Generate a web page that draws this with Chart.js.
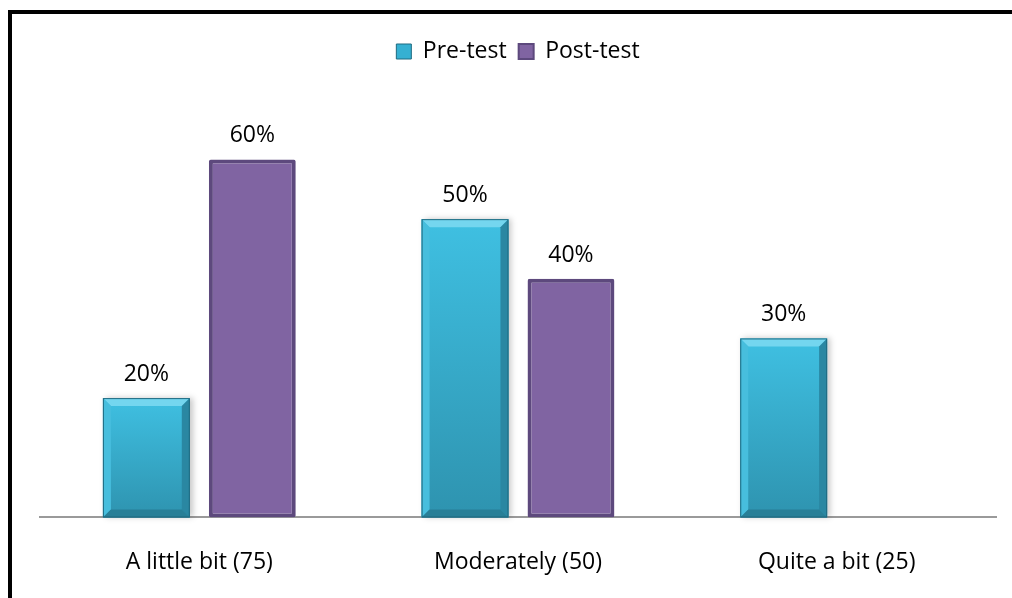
<!DOCTYPE html>
<html>
<head>
<meta charset="utf-8">
<script src="https://cdn.jsdelivr.net/npm/chart.js@4"></script>
<style>
  html, body { margin: 0; padding: 0; background: #fff; }
  body { width: 1012px; height: 598px; position: relative; overflow: hidden; }
  #frame {
    position: absolute; left: 8px; top: 10px; width: 1100px; height: 700px;
    border-left: 4px solid #000; border-top: 4px solid #000;
  }
  #wrap { position: absolute; left: 0; top: 0; width: 1012px; height: 627px; }
</style>
</head>
<body>
<div id="frame"></div>
<div id="wrap"><canvas id="c" width="1012" height="627"></canvas></div>
<script>
const categories = ['A little bit (75)', 'Moderately (50)', 'Quite a bit (25)'];
const preTest = [20, 50, 30];
const postTest = [60, 40, null];
const seriesNames = ['Pre-test', 'Post-test'];

const FONT = '"Open Sans", "Liberation Sans", sans-serif';

// Bevelled look for the cyan bars, plus value labels above every bar
const barDecor = {
  id: 'barDecor',
  afterDatasetsDraw(chart) {
    const ctx = chart.ctx;
    const meta0 = chart.getDatasetMeta(0);
    meta0.data.forEach((bar) => {
      if (bar.skip) return;
      const l = bar.x - bar.width / 2, r = bar.x + bar.width / 2;
      const t = bar.y, b = bar.base;
      const bv = 8;
      ctx.save();
      // body with a soft drop shadow
      const g = ctx.createLinearGradient(0, t, 0, b);
      g.addColorStop(0, '#3fc0e2');
      g.addColorStop(1, '#2e93af');
      ctx.shadowColor = 'rgba(0,0,0,0.22)';
      ctx.shadowBlur = 6;
      ctx.shadowOffsetX = 3;
      ctx.shadowOffsetY = 0;
      ctx.fillStyle = g;
      ctx.fillRect(l, t, r - l, b - t);
      ctx.shadowColor = 'rgba(0,0,0,0)';
      // top bevel
      ctx.fillStyle = '#74d6ef';
      ctx.beginPath();
      ctx.moveTo(l, t); ctx.lineTo(r, t); ctx.lineTo(r - bv, t + bv); ctx.lineTo(l + bv, t + bv); ctx.closePath();
      ctx.fill();
      // left bevel
      ctx.fillStyle = '#47bedd';
      ctx.beginPath();
      ctx.moveTo(l, t); ctx.lineTo(l + bv, t + bv); ctx.lineTo(l + bv, b - bv); ctx.lineTo(l, b); ctx.closePath();
      ctx.fill();
      // right bevel
      ctx.fillStyle = '#2a87a2';
      ctx.beginPath();
      ctx.moveTo(r, t); ctx.lineTo(r, b); ctx.lineTo(r - bv, b - bv); ctx.lineTo(r - bv, t + bv); ctx.closePath();
      ctx.fill();
      // bottom bevel
      ctx.fillStyle = '#287f97';
      ctx.beginPath();
      ctx.moveTo(l, b); ctx.lineTo(r, b); ctx.lineTo(r - bv, b - bv); ctx.lineTo(l + bv, b - bv); ctx.closePath();
      ctx.fill();
      // outline
      ctx.strokeStyle = '#1f6a80';
      ctx.lineWidth = 1;
      ctx.strokeRect(l + 0.5, t + 0.5, r - l - 1, b - t - 1);
      ctx.restore();
    });

    ctx.save();
    ctx.font = '23px ' + FONT;
    ctx.fillStyle = '#000';
    ctx.textAlign = 'center';
    ctx.textBaseline = 'alphabetic';
    chart.data.datasets.forEach((ds, di) => {
      const meta = chart.getDatasetMeta(di);
      meta.data.forEach((bar, i) => {
        const v = ds.data[i];
        if (v === null || v === undefined) return;
        ctx.fillText(v + '%', bar.x, bar.y - 17);
      });
    });
    ctx.restore();
  }
};

new Chart(document.getElementById('c'), {
  type: 'bar',
  data: {
    labels: categories,
    datasets: [
      {
        label: seriesNames[0],
        data: preTest,
        backgroundColor: 'rgba(0,0,0,0)',
        borderWidth: 0,
        categoryPercentage: 0.665,
        barPercentage: 0.82
      },
      {
        label: seriesNames[1],
        data: postTest,
        backgroundColor: '#8064a2',
        borderColor: '#5d497d',
        borderWidth: 4,
        borderRadius: 2,
        borderSkipped: false,
        categoryPercentage: 0.665,
        barPercentage: 0.82
      }
    ]
  },
  options: {
    responsive: false,
    animation: false,
    layout: { padding: { left: 40, right: 16, top: 28, bottom: 20 } },
    plugins: {
      tooltip: { enabled: false },
      legend: {
        position: 'top',
        labels: {
          font: { family: FONT, size: 23 },
          color: '#000',
          boxWidth: 15,
          boxHeight: 15,
          padding: 12,
          generateLabels() {
            return [
              { text: seriesNames[0], fillStyle: '#35b0d2', strokeStyle: '#1f6a80', lineWidth: 1, datasetIndex: 0 },
              { text: seriesNames[1], fillStyle: '#8064a2', strokeStyle: '#5d497d', lineWidth: 2, datasetIndex: 1 }
            ];
          }
        }
      }
    },
    scales: {
      x: {
        grid: { display: false, drawTicks: false },
        border: { display: true, color: '#9a9a9a', width: 2 },
        ticks: { font: { family: FONT, size: 23 }, color: '#000', padding: 31 }
      },
      y: {
        display: false,
        min: 0,
        max: 74.5
      }
    }
  },
  plugins: [barDecor]
});
</script>
</body>
</html>
